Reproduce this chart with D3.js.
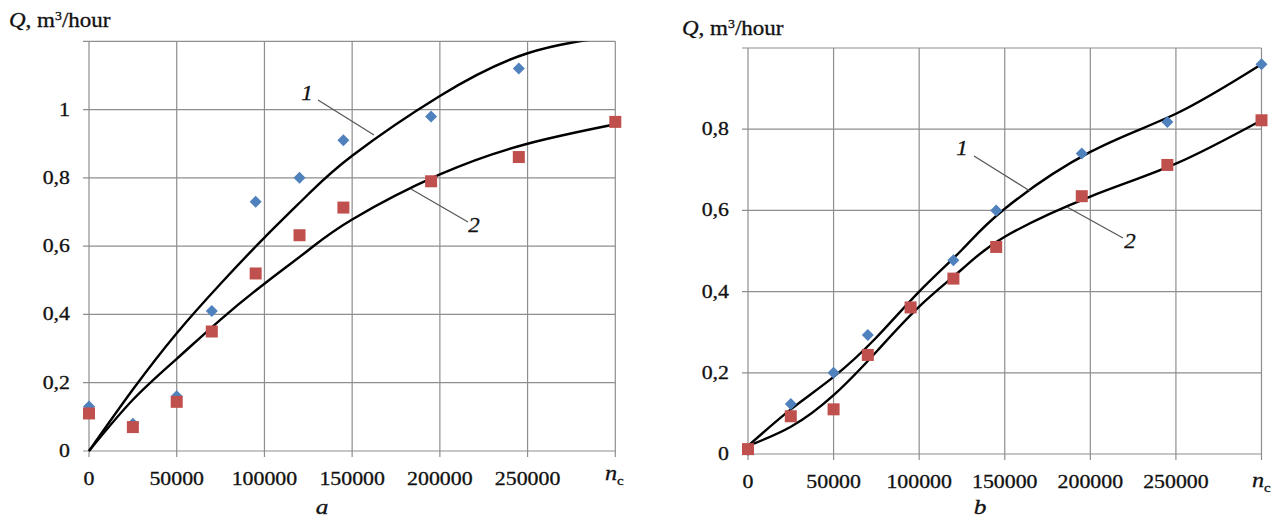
<!DOCTYPE html>
<html>
<head>
<meta charset="utf-8">
<script src="https://cdn.jsdelivr.net/npm/d3@7"></script>
<style>
  html, body { margin: 0; padding: 0; background: #fff; }
  svg { display: block; }
</style>
</head>
<body>
<svg id="chart" width="1274" height="526"></svg>
<script>
// ---------- data ----------
const nc = [0, 25000, 50000, 70000, 95000, 120000, 145000, 195000, 245000, 300000];
const xTicks = [0, 50000, 100000, 150000, 200000, 250000];
const xTickLabels = ["0", "50000", "100000", "150000", "200000", "250000"];

// panel a
const yTicksA = [0, 0.2, 0.4, 0.6, 0.8, 1];
const yTickLabelsA = ["0", "0,2", "0,4", "0,6", "0,8", "1"];
const blueA = [0.13, 0.08, 0.16, 0.41, 0.73, 0.80, 0.91, 0.98, 1.12, null];
const redA = [0.11, 0.07, 0.144, 0.35, 0.52, 0.632, 0.713, 0.79, 0.861, 0.964];
const curveX = [0, 25000, 50000, 75000, 100000, 125000, 150000, 200000, 250000, 300000];
const curve1A = [0, 0.18, 0.345, 0.49, 0.625, 0.752, 0.865, 1.04, 1.165, 1.215];
const curve2A = [0, 0.15, 0.27, 0.385, 0.49, 0.588, 0.678, 0.81, 0.9, 0.957];

// panel b
const yTicksB = [0, 0.2, 0.4, 0.6, 0.8];
const yTickLabelsB = ["0", "0,2", "0,4", "0,6", "0,8"];
const blueB = [0.01, 0.123, 0.20, 0.293, 0.36, 0.477, 0.60, 0.74, 0.818, 0.96];
const redB = [0.012, 0.093, 0.11, 0.244, 0.361, 0.432, 0.51, 0.635, 0.712, 0.822];
const curve1B = [0.02, 0.11, 0.19, 0.287, 0.4, 0.503, 0.604, 0.744, 0.838, 0.96];
const curve2B = [0.02, 0.067, 0.145, 0.252, 0.363, 0.455, 0.535, 0.634, 0.715, 0.822];

const BLUE = "#4F81BD", RED = "#C0504D", GRID = "#8e8e8e";
const SX = 1.15; // horizontal stretch of text in the reference
const FONT = "'Liberation Serif', 'Times New Roman', serif";

const svg = d3.select("#chart");

function stretchedText(g, x, y, anchor, size, italic) {
  return g.append("text")
    .attr("transform", `translate(${x},${y}) scale(${SX},1)`)
    .attr("text-anchor", anchor)
    .attr("fill", "#111")
    .attr("stroke", "#111")
    .attr("stroke-width", 0.3)
    .style("font-family", FONT)
    .style("font-size", size + "px")
    .style("font-style", italic ? "italic" : "normal");
}

function panel(cfg) {
  const g = svg.append("g");
  const x = d3.scaleLinear().domain([0, 300000]).range([cfg.left, cfg.right]);
  const y = d3.scaleLinear().domain([0, cfg.yMax]).range([cfg.bottom, cfg.top]);

  // grid (vertical)
  const gridX = xTicks.concat([300000]);
  g.selectAll(".vg").data(gridX).enter().append("line")
    .attr("x1", d => x(d)).attr("x2", d => x(d))
    .attr("y1", cfg.top).attr("y2", cfg.bottom + 6)
    .attr("stroke", GRID).attr("stroke-width", 1.2);
  // grid (horizontal)
  const gridY = cfg.yTicks.concat([cfg.yMax]);
  g.selectAll(".hg").data(gridY).enter().append("line")
    .attr("x1", cfg.left - 6).attr("x2", cfg.right)
    .attr("y1", d => y(d)).attr("y2", d => y(d))
    .attr("stroke", GRID).attr("stroke-width", 1.2);

  // x tick labels
  xTicks.forEach((t, i) => {
    stretchedText(g, x(t), cfg.xLabelY, "middle", 19, false).text(xTickLabels[i]);
  });
  // y tick labels
  cfg.yTicks.forEach((t, i) => {
    stretchedText(g, cfg.left - 19, y(t) + 6, "end", 19, false).text(cfg.yTickLabels[i]);
  });

  // axis title
  const tt = stretchedText(g, cfg.titleX, cfg.titleY, "start", 20, false);
  tt.append("tspan").style("font-style", "italic").text("Q");
  tt.append("tspan").text(", m");
  tt.append("tspan").attr("dy", -7).style("font-size", "12px").text("3");
  tt.append("tspan").attr("dy", 7).text("/hour");

  // n_c label
  const nt = stretchedText(g, cfg.ncX, cfg.ncY, "start", 21, true);
  nt.append("tspan").text("n");
  nt.append("tspan").attr("dy", 5).style("font-size", "13px").style("font-style", "normal").text("c");

  // panel letter
  stretchedText(g, cfg.letterX, 514, "middle", 22, true).text(cfg.letter);

  // clip
  const clipId = "clip" + cfg.letter;
  svg.append("clipPath").attr("id", clipId).append("rect")
    .attr("x", cfg.left - 2).attr("y", cfg.top).attr("width", cfg.right - cfg.left + 4).attr("height", cfg.bottom - cfg.top + 2);

  // curves
  const line = d3.line().x(d => x(d[0])).y(d => y(d[1])).curve(d3.curveNatural);
  [cfg.c1, cfg.c2].forEach(c => {
    g.append("path").attr("clip-path", `url(#${clipId})`)
      .attr("d", line(curveX.map((v, i) => [v, c[i]])))
      .attr("fill", "none").attr("stroke", "#000").attr("stroke-width", 2.4);
  });

  // markers: blue diamonds
  const dsz = 6;
  g.selectAll(".bd").data(nc.map((v, i) => [v, cfg.blue[i]]).filter(d => d[1] != null))
    .enter().append("path")
    .attr("d", d => { const cx = x(d[0]), cy = y(d[1]); return `M${cx},${cy - dsz}L${cx + dsz},${cy}L${cx},${cy + dsz}L${cx - dsz},${cy}Z`; })
    .attr("fill", BLUE);
  // red squares
  const s = 12;
  g.selectAll(".rs").data(nc.map((v, i) => [v, cfg.red[i]]).filter(d => d[1] != null))
    .enter().append("rect")
    .attr("x", d => x(d[0]) - s / 2).attr("y", d => y(d[1]) - s / 2)
    .attr("width", s).attr("height", s).attr("fill", RED);

  // curve labels with leaders
  cfg.labels.forEach(L => {
    g.append("line").attr("x1", L.lx1).attr("y1", L.ly1).attr("x2", L.lx2).attr("y2", L.ly2)
      .attr("stroke", "#555").attr("stroke-width", 1.2);
    stretchedText(g, L.tx, L.ty, "middle", 20, true).text(L.text);
  });
}

panel({
  letter: "a", left: 89, right: 615.3, top: 41.3, bottom: 451, yMax: 1.2,
  yTicks: yTicksA, yTickLabels: yTickLabelsA,
  blue: blueA, red: redA, c1: curve1A, c2: curve2A,
  xLabelY: 485, titleX: 9, titleY: 27, ncX: 605, ncY: 480, letterX: 322,
  labels: [
    { text: "1", tx: 307, ty: 100, lx1: 318, ly1: 100, lx2: 374, ly2: 135 },
    { text: "2", tx: 474, ty: 232, lx1: 411, ly1: 189, lx2: 468, ly2: 222 }
  ]
});

panel({
  letter: "b", left: 748, right: 1261.5, top: 48, bottom: 454, yMax: 1.0,
  yTicks: yTicksB, yTickLabels: yTickLabelsB,
  blue: blueB, red: redB, c1: curve1B, c2: curve2B,
  xLabelY: 488, titleX: 682, titleY: 35, ncX: 1252, ncY: 487, letterX: 980,
  labels: [
    { text: "1", tx: 962, ty: 155, lx1: 974, ly1: 156, lx2: 1030, ly2: 191 },
    { text: "2", tx: 1130, ty: 248, lx1: 1067, ly1: 207, lx2: 1123, ly2: 238 }
  ]
});
</script>
</body>
</html>
